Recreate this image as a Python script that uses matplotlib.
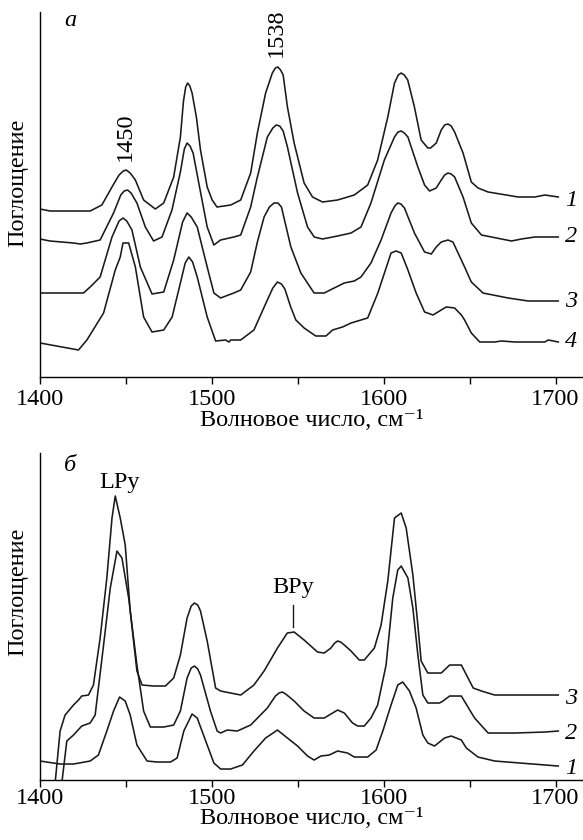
import numpy as np
import matplotlib
matplotlib.use('Agg')
import matplotlib.pyplot as plt

# --- panel a: four spectra (wavenumber, absorbance in arbitrary units) ---
a1_x = [1400, 1405.8, 1429.2, 1436, 1441.9, 1446, 1448.5, 1450.2, 1452.5, 1455.5, 1460.3, 1467.1, 1472, 1477.8,
        1481.7, 1483.5, 1484.8, 1485.9, 1487.2, 1488.5, 1491, 1493.4, 1497.3, 1500.2, 1503, 1511, 1516.8, 1522.6,
        1526.5, 1531.3, 1535.2, 1537, 1538.4, 1540, 1541.5, 1544, 1547.9, 1553.7, 1558.6, 1564.4, 1573.2, 1582.9,
        1590.7, 1596.5, 1602.4, 1606.3, 1608.5, 1610.2, 1612, 1614, 1617.9, 1621.8, 1625.7, 1627.3, 1630.6,
        1633.5, 1635.5, 1637.4, 1639.3, 1641.3, 1646.2, 1651, 1654.9, 1660.8, 1678.3, 1688, 1693.8, 1701.6]
a1_y = [168, 166, 166, 172, 190, 202, 206, 207, 204, 197, 177, 168, 174, 200,
        240, 276, 290, 294, 291, 284, 260, 227, 190, 177, 170, 172, 177, 204,
        244, 284, 304, 309, 310, 307, 302, 270, 234, 194, 180, 175, 177, 182,
        192, 217, 260, 294, 302, 304, 302, 297, 270, 237, 229, 229, 234,
        247, 252, 253, 251, 245, 224, 195, 189, 185, 180, 180, 182, 180]

a2_x = [1400, 1405.8, 1419.5, 1423.4, 1427.2, 1435, 1442.8, 1447, 1449, 1451, 1453, 1456.4, 1461.3, 1466.1,
        1471, 1476.8, 1481.7, 1484, 1485.6, 1487.3, 1489.1, 1493.4, 1497.3, 1501.2, 1505.1, 1512.8, 1516.8,
        1522.6, 1526.5, 1532.3, 1535.5, 1537.5, 1539.5, 1541.5, 1544, 1549.9, 1555.7, 1559.6, 1564.4, 1573.2,
        1581, 1586.8, 1592.6, 1600.4, 1606.3, 1608.3, 1610.2, 1612, 1614.1, 1619.9, 1623.8, 1626.7, 1630.6,
        1633.5, 1635.5, 1637.4, 1639.3, 1641.3, 1646.2, 1651, 1656.9, 1662.7, 1674.4, 1680.2, 1688, 1701.6]
a2_y = [138, 136, 134, 133, 134, 137, 164, 182, 186, 187, 184, 174, 150, 136,
        140, 167, 205, 228, 234, 231, 224, 185, 150, 132, 137, 140, 142,
        170, 200, 240, 249, 252, 251, 246, 230, 184, 150, 140, 138, 141,
        144, 150, 174, 217, 240, 245, 246, 244, 240, 210, 192, 186, 189,
        197, 202, 204, 203, 200, 180, 154, 142, 140, 136, 138, 140, 140]

a3_x = [1400, 1425.3, 1429.2, 1435, 1441.9, 1446, 1448.3, 1450.5, 1453.5, 1458.4, 1465.2, 1472, 1477.8, 1483,
        1485.6, 1488, 1491.5, 1497.3, 1501.2, 1505.1, 1512.8, 1516.8, 1522.6, 1526.5, 1530.4, 1533.5, 1536.2,
        1538.5, 1540.5, 1546, 1551.8, 1559.5, 1565.4, 1571.2, 1577.1, 1582.9, 1586.8, 1592.6, 1598.5, 1604.3,
        1606.5, 1608.2, 1610, 1612.1, 1617.9, 1623.8, 1627.7, 1630.6, 1633.5, 1637.4, 1640.3, 1643.3, 1647.1,
        1651, 1657.8, 1672.4, 1684.1, 1701.6]
a3_y = [84, 84, 90, 100, 140, 156, 159, 156, 147, 110, 83, 85, 117, 155,
        164, 160, 150, 110, 84, 79, 84, 87, 105, 135, 160, 170, 174,
        174, 170, 130, 104, 84, 84, 89, 94, 96, 100, 114, 137, 164,
        171, 174, 173, 169, 144, 125, 123, 130, 135, 137, 135, 124, 110,
        95, 84, 79, 76, 76]

a4_x = [1400, 1422.4, 1427.3, 1437, 1443.8, 1446.7, 1448.3, 1451.6, 1455.5, 1460.3, 1465.2, 1472, 1476.9,
        1481.7, 1484.5, 1486.6, 1488.8, 1491.5, 1497.3, 1502.2, 1508, 1510, 1511, 1516.8, 1524.5, 1532.3, 1535.5,
        1538.2, 1540.5, 1542.5, 1545.9, 1548.9, 1553.7, 1560.5, 1566.4, 1570.3, 1576.1, 1581, 1590.7, 1596.6,
        1604.3, 1607.2, 1610.2, 1614.1, 1618.9, 1623.8, 1628.7, 1633.5, 1636.4, 1641.3, 1645.2, 1647.1, 1651,
        1655.9, 1664.6, 1668.5, 1676.3, 1693.8, 1695.8, 1701.6]
a4_y = [34, 27, 37, 64, 107, 120, 134, 134, 110, 60, 45, 47, 60,
        94, 114, 120, 115, 100, 60, 36, 37, 35, 37, 37, 47, 77, 89,
        95, 93, 88, 70, 57, 49, 41, 41, 47, 50, 54, 59, 84,
        124, 126, 124, 107, 84, 65, 62, 67, 70, 69, 62, 57, 44,
        35, 35, 36, 35, 35, 37, 35]

# --- panel b: three spectra ---
b3_x = [1408.8, 1411.7, 1414.6, 1419.5, 1422.4, 1424.3, 1428.2, 1431.1, 1435, 1438.9, 1441.9, 1443.8, 1446.7,
        1449.6, 1452.5, 1456.4, 1459.4, 1466.1, 1473, 1477.8, 1481.7, 1485.6, 1488, 1489.9, 1491.8, 1493.4,
        1497.3, 1502.2, 1505.1, 1516.8, 1524.5, 1530.4, 1538.2, 1543.9, 1547.9, 1553.7, 1561.5, 1565.4, 1569.3,
        1571.5, 1573.2, 1575, 1577.1, 1581, 1585.8, 1588.7, 1594.6, 1598.5, 1602.4, 1606.3, 1610.2, 1613.1,
        1617, 1619.9, 1621.8, 1625.7, 1633.5, 1638.4, 1645.2, 1652.1, 1656.9, 1664.6, 1701.6]
b3_y = [-3, 49, 65, 75, 80, 84, 85, 95, 142, 202, 262, 284, 262,
        235, 169, 109, 95, 94, 94, 102, 125, 162, 174, 177, 175, 169,
        139, 92, 89, 85, 95, 109, 132, 147, 148, 140, 128, 127, 132,
        137, 139, 138, 135, 129, 120, 120, 132, 155, 199, 262, 267, 252,
        205, 155, 119, 107, 107, 115, 115, 92, 89, 85, 85]

b2_x = [1412.7, 1415.6, 1419.5, 1424.3, 1429.2, 1432.1, 1437, 1440.9, 1444.8, 1447.7, 1451.6, 1456.4, 1460.3,
        1464.2, 1472, 1477.8, 1481.7, 1485.6, 1488, 1489.9, 1491.8, 1493.4, 1499.2, 1503.1, 1505.1, 1509,
        1514.8, 1522.6, 1532.3, 1537, 1539.1, 1541, 1543, 1547.9, 1553.7, 1559.5, 1565.4, 1570.3, 1573.2,
        1577.1, 1581.9, 1584.9, 1588.7, 1592.6, 1596.5, 1601.4, 1605.3, 1608.2, 1610.2, 1614.1, 1617, 1619.9,
        1622.8, 1625.7, 1632.5, 1634.5, 1638.4, 1645.2, 1652.9, 1660.8, 1676.3, 1693.8, 1701.6]
b2_y = [-3, 39, 45, 54, 57, 65, 135, 192, 229, 222, 182, 115, 69,
        53, 53, 55, 69, 102, 112, 114, 111, 105, 69, 49, 47, 50,
        49, 55, 72, 84, 87, 88, 86, 79, 69, 62, 62, 67, 70,
        67, 57, 54, 54, 62, 75, 115, 182, 210, 214, 202, 172, 125,
        85, 77, 77, 79, 84, 84, 62, 47, 47, 48, 49]

b1_x = [1400, 1411.7, 1419.5, 1429.2, 1434, 1438.9, 1442.8, 1446.3, 1449.6, 1452.5, 1456.4, 1462.3, 1468.1,
        1475.9, 1479.8, 1483.7, 1488.5, 1491.5, 1497.3, 1501.2, 1505.1, 1510.9, 1517.8, 1524.5, 1531.3, 1538.2,
        1544, 1549.9, 1555.7, 1559.5, 1563.5, 1568.3, 1573.2, 1579, 1582.9, 1590.7, 1595.6, 1599.5, 1604.3,
        1608.2, 1611.1, 1615, 1618.9, 1622.8, 1625.7, 1629.6, 1635.4, 1639.3, 1645.2, 1648.1, 1654.9, 1664.6,
        1701.6]
b1_y = [19, 16, 16, 19, 25, 49, 69, 83, 79, 65, 35, 19, 18,
        18, 22, 49, 66, 62, 35, 17, 11, 11, 15, 29, 42, 50,
        42, 34, 24, 20, 24, 25, 29, 27, 23, 23, 30, 49, 75,
        95, 98, 89, 72, 45, 37, 34, 42, 44, 40, 32, 23, 19,
        14]

tick_pos = [1400, 1450, 1500, 1550, 1600, 1650, 1700]
tick_lab = ['1400', '', '1500', '', '1600', '', '1700']
xlab = 'Волновое число, см⁻¹'
ylab = 'Поглощение'

plt.rcParams['font.family'] = ['Liberation Serif', 'DejaVu Serif']
fs = 17.5

fig = plt.figure(figsize=(5.83, 8.4), dpi=100)
ax1 = fig.add_axes([0.0686, 0.5512, 0.9314, 0.4345])
ax2 = fig.add_axes([0.0686, 0.0714, 0.9314, 0.3893])


def style(ax, ymax, tpad, lpad):
	ax.set_xlim(1400, 1716)
	ax.set_ylim(0, ymax)
	for s in ['top', 'right']:
		ax.spines[s].set_visible(False)
	ax.spines['left'].set_linewidth(1.0)
	ax.spines['bottom'].set_linewidth(1.0)
	ax.set_yticks([])
	ax.set_xticks(tick_pos)
	ax.set_xticklabels(tick_lab, fontsize=fs)
	ax.tick_params(axis='x', direction='out', length=5, width=1, pad=tpad)
	ax.set_xlabel(xlab, fontsize=fs, labelpad=lpad)


lw = 1.15
for x, y in [(a1_x, a1_y), (a2_x, a2_y), (a3_x, a3_y), (a4_x, a4_y)]:
	ax1.plot(x, y, color='#1a1a1a', lw=lw, solid_joinstyle='round')
style(ax1, 365, 4, 0)
ax1.text(1417.5, 357, 'а', style='italic', fontsize=fs, ha='center', va='center')
ax1.text(1449.5, 240, '1450', rotation=90, fontsize=fs, ha='center', va='center')
ax1.text(1537.5, 344, '1538', rotation=90, fontsize=fs, ha='center', va='center')
for lab, yy in [('1', 177), ('2', 140), ('3', 75), ('4', 35)]:
	ax1.text(1709, yy, lab, style='italic', fontsize=fs, ha='center', va='center')

for x, y in [(b3_x, b3_y), (b2_x, b2_y), (b1_x, b1_y)]:
	ax2.plot(x, y, color='#1a1a1a', lw=lw, solid_joinstyle='round')
style(ax2, 327, 1, -1)
ax2.text(1417.5, 315, 'б', style='italic', fontsize=fs, ha='center', va='center')
ax2.text(1446, 298, 'LPy', fontsize=fs, ha='center', va='center')
ax2.text(1547.4, 193, 'BPy', fontsize=fs, ha='center', va='center')
ax2.plot([1547.4, 1547.4], [153, 175], color='#1a1a1a', lw=1.0)
for lab, yy in [('3', 82), ('2', 47), ('1', 12)]:
	ax2.text(1709, yy, lab, style='italic', fontsize=fs, ha='center', va='center')

fig.text(18 / 583, 1 - 183 / 840, ylab, rotation=90, fontsize=fs, ha='center', va='center')
fig.text(18 / 583, 1 - 592 / 840, ylab, rotation=90, fontsize=fs, ha='center', va='center')

fig.savefig('out.png', dpi=100)
